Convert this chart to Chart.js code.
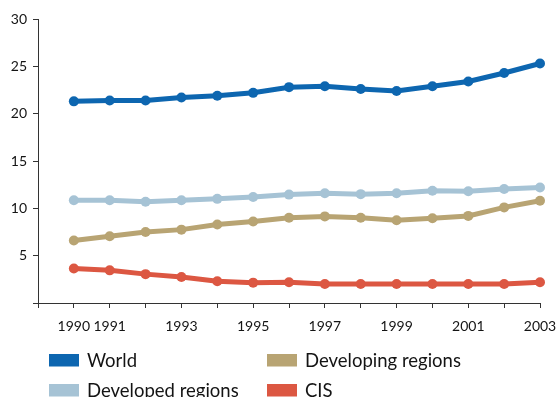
<!DOCTYPE html>
<html>
<head>
<meta charset="utf-8">
<script src="https://cdn.jsdelivr.net/npm/chart.js@4.4.1/dist/chart.umd.min.js"></script>
<style>
  html, body { margin: 0; padding: 0; background: #ffffff; }
  #wrap { position: relative; width: 560px; height: 397px; overflow: hidden; }
</style>
</head>
<body>
<div id="wrap"><canvas id="chart" width="560" height="397"></canvas></div>
<script>
// Years on the horizontal axis
const years = [1990, 1991, 1992, 1993, 1994, 1995, 1996, 1997, 1998, 1999, 2000, 2001, 2002, 2003];
// Years that carry a printed label
const labeledYears = [1990, 1991, 1993, 1995, 1997, 1999, 2001, 2003];
// Vertical tick labels
const yTicks = [5, 10, 15, 20, 25, 30];

const seriesNames = ['World', 'Developed regions', 'Developing regions', 'CIS'];
const world      = [21.3, 21.4, 21.4, 21.7, 21.9, 22.2, 22.8, 22.9, 22.6, 22.4, 22.9, 23.4, 24.3, 25.3];
const developed  = [10.85, 10.85, 10.7, 10.85, 11.0, 11.2, 11.45, 11.6, 11.5, 11.6, 11.85, 11.8, 12.05, 12.2];
const developing = [6.6, 7.05, 7.5, 7.75, 8.3, 8.6, 9.0, 9.15, 9.0, 8.75, 8.95, 9.2, 10.1, 10.8];
const cis        = [3.65, 3.45, 3.05, 2.75, 2.3, 2.15, 2.2, 2.0, 2.0, 2.0, 2.0, 2.0, 2.0, 2.2];

const colors = ['#0d66b0', '#a6c3d5', '#b8a473', '#dc5742'];
const seriesValues = [world, developed, developing, cis];

const datasets = seriesValues.map((vals, i) => ({
  label: seriesNames[i],
  data: vals.map((v, j) => ({ x: years[j], y: v })),
  borderColor: colors[i],
  backgroundColor: colors[i],
  pointBackgroundColor: colors[i],
  pointBorderColor: colors[i],
  borderWidth: 5,
  pointRadius: 5,
  pointBorderWidth: 0,
  tension: 0,
  clip: false
}));
// draw World on top
datasets.reverse();

const FONT = '"Lato", "Open Sans", sans-serif';

// Two-column legend below the plot
const legendPlugin = {
  id: 'gridLegend',
  afterDraw(chart) {
    const ctx = chart.ctx;
    const cols = [49, 267];
    const rows = [354, 384];
    ctx.save();
    ctx.font = '18.5px ' + FONT;
    ctx.textBaseline = 'alphabetic';
    seriesNames.forEach((name, i) => {
      const col = i < 2 ? 0 : 1;
      const row = i % 2;
      const x = cols[col];
      const y = rows[row];
      ctx.fillStyle = colors[i];
      ctx.fillRect(x, y, 30, 12.5);
      ctx.fillStyle = '#141414';
      ctx.fillText(name, x + 38, y + 12.5);
    });
    ctx.restore();
  }
};

new Chart(document.getElementById('chart'), {
  type: 'line',
  data: { datasets },
  options: {
    responsive: false,
    animation: false,
    layout: { padding: { left: 0, top: 19, right: 20, bottom: 54 } },
    plugins: { legend: { display: false }, tooltip: { enabled: false } },
    scales: {
      x: {
        type: 'linear',
        min: 1989,
        max: 2003,
        border: { display: true, color: '#333333', width: 1 },
        grid: { drawOnChartArea: false, drawTicks: true, tickLength: 5, color: '#333333' },
        ticks: {
          stepSize: 1,
          autoSkip: false,
          maxRotation: 0,
          padding: 10,
          color: '#141414',
          font: { family: FONT, size: 14 },
          callback: (v) => labeledYears.includes(v) ? String(v) : ''
        },
        afterFit: (s) => { s.height = 40; s.paddingLeft = 0; s.paddingRight = 0; }
      },
      y: {
        min: 0,
        max: 30,
        border: { display: true, color: '#333333', width: 1 },
        grid: { drawOnChartArea: false, drawTicks: true, tickLength: 5, color: '#333333' },
        ticks: {
          stepSize: 5,
          padding: 6,
          color: '#141414',
          font: { family: FONT, size: 14 },
          callback: (v) => yTicks.includes(v) ? String(v) : ''
        },
        afterFit: (s) => { s.width = 38; }
      }
    }
  },
  plugins: [legendPlugin]
});
</script>
</body>
</html>
